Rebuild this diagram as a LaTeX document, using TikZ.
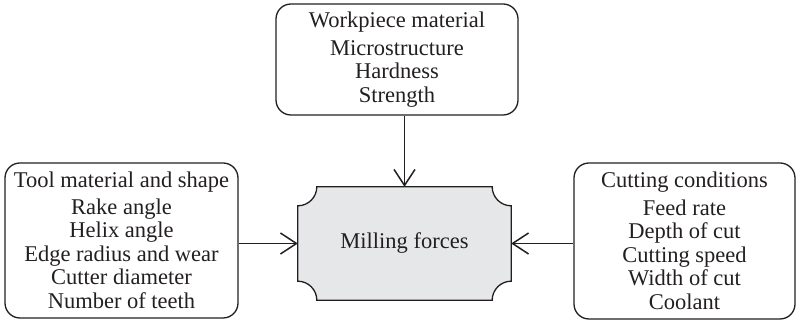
\documentclass[tikz,border=0pt]{standalone}
\usepackage{fontspec}
\setmainfont{Liberation Serif}
\usetikzlibrary{arrows.meta}
\definecolor{ink}{HTML}{231F20}
\definecolor{midfill}{HTML}{E6E7E9}
\begin{document}
\begin{tikzpicture}[x=1pt,y=1pt,
  box/.style={draw=ink, text=ink, line width=1.3pt, rounded corners=15pt, inner sep=0pt, align=center,
    font=\fontsize{22.5}{23.5}\selectfont},
  arr/.style={draw=ink, line width=1.5pt, -{Straight Barb[length=16pt,width=21pt,line width=1.5pt]}},
  midtext/.style={inner sep=0pt, text=ink, font=\fontsize{22.5}{23.5}\selectfont}]
\useasboundingbox (0,0) rectangle (798,323);
\node[box, minimum width=242pt, minimum height=111pt] (top) at (397,263.5)
  {Workpiece material\\[4pt] Microstructure\\ Hardness\\ Strength};
\node[box, minimum width=233pt, minimum height=155pt] (left) at (121.5,82.5)
  {Tool material and shape\\[3pt] Rake angle\\ Helix angle\\ Edge radius and wear\\ Cutter diameter\\ Number of teeth};
\node[box, minimum width=221pt, minimum height=156pt] (right) at (684.5,82)
  {Cutting conditions\\[4pt] Feed rate\\ Depth of cut\\ Cutting speed\\ Width of cut\\ Coolant};
\node[midtext, minimum width=213pt, minimum height=113pt] (mid) at (404.5,79.5) {};
\draw[ink, line width=1.3pt, fill=midfill]
  ([yshift=19pt]mid.south west) -- ([yshift=-19pt]mid.north west)
  arc[start angle=270, end angle=360, radius=19pt]
  -- ([xshift=-19pt]mid.north east)
  arc[start angle=180, end angle=270, radius=19pt]
  -- ([yshift=19pt]mid.south east)
  arc[start angle=90, end angle=180, radius=19pt]
  -- ([xshift=19pt]mid.south west)
  arc[start angle=0, end angle=90, radius=19pt] -- cycle;
\node[midtext] (midlabel) at (mid.center) {Milling forces};
\draw[arr] (mid.north |- top.south) -- (mid.north);
\draw[arr] (left.east |- mid.west) -- (mid.west);
\draw[arr] (right.west |- mid.east) -- (mid.east);
\end{tikzpicture}
\end{document}
